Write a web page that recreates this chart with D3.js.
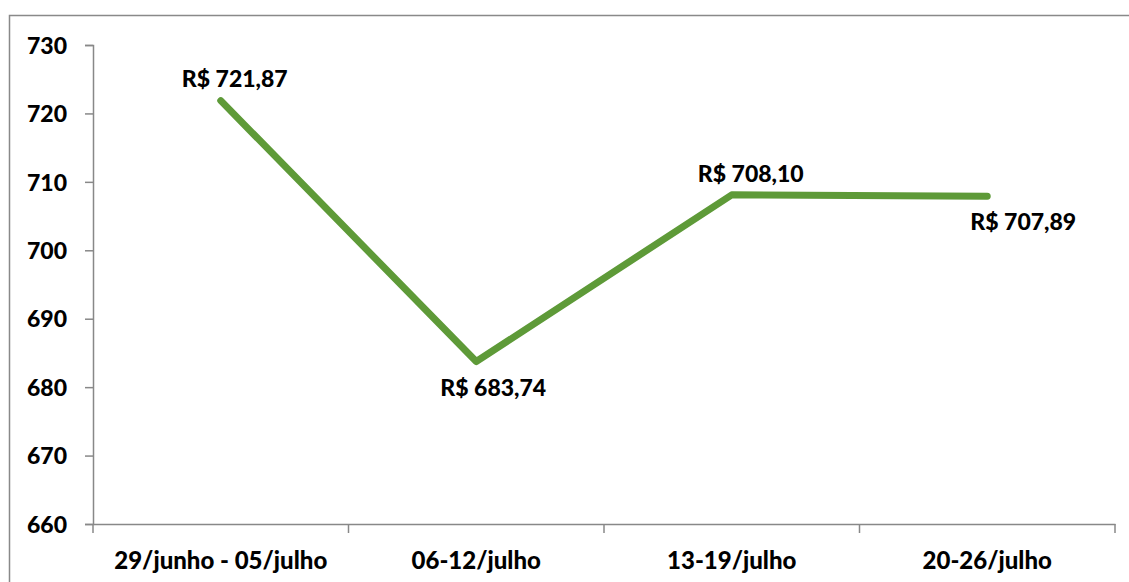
<!DOCTYPE html>
<html><head><meta charset="utf-8">
<script src="https://cdn.jsdelivr.net/npm/d3@7"></script>
<style>body{margin:0;background:#fff}svg{display:block}text{font-family:Lato,"Open Sans",sans-serif;font-weight:900;fill:#000}</style>
</head><body>
<script>
const categories = ["29/junho - 05/julho", "06-12/julho", "13-19/julho", "20-26/julho"];
const values = [721.87, 683.74, 708.10, 707.89];
const yTicks = [660, 670, 680, 690, 700, 710, 720, 730];

const W = 1129, H = 582;
const svg = d3.select("body").append("svg").attr("width", W).attr("height", H);
svg.append("rect").attr("x", 9.5).attr("y", 15.5).attr("width", 1130).attr("height", 600)
  .attr("fill", "none").attr("stroke", "#898989").attr("stroke-width", 1.5);

const L = 93, R = 1115, T = 45, B = 524;
const x = d3.scaleBand().domain(categories).range([L, R]);
const y = d3.scaleLinear().domain([660, 730]).range([B, T]);

const axColor = "#888";
// Y axis
const ya = svg.append("g").attr("transform", `translate(${L},0)`)
  .call(d3.axisLeft(y).tickValues(yTicks).tickSize(8).tickPadding(18).tickFormat(d3.format("d")));
ya.select(".domain").attr("stroke", axColor).attr("stroke-width", 1.5);
ya.selectAll(".tick line").attr("stroke", axColor).attr("stroke-width", 1.5);
ya.selectAll("text").style("font-size", "23px").attr("dy", "0.36em");

// X axis
const xa = svg.append("g").attr("transform", `translate(0,${B})`)
  .call(d3.axisBottom(x).tickSize(0));
xa.select(".domain").attr("stroke", axColor).attr("stroke-width", 1.5);
xa.selectAll("text").style("font-size", "24px").attr("y", 45).attr("dy", 0);
const bounds = categories.map(c => x(c)).concat([R]);
svg.append("g").selectAll("line").data(bounds).join("line")
  .attr("x1", d => d).attr("x2", d => d).attr("y1", B).attr("y2", B + 9)
  .attr("stroke", axColor).attr("stroke-width", 1.5);

const cx = (c) => x(c) + x.bandwidth() / 2;
const line = d3.line().x((d, i) => cx(categories[i])).y(d => y(d));
svg.append("path").datum(values).attr("d", line)
  .attr("fill", "none").attr("stroke", "#5E9A38").attr("stroke-width", 7)
  .attr("stroke-linecap", "round").attr("stroke-linejoin", "round");

const fmt = v => "R$ " + v.toFixed(2).replace(".", ",");
const place = [[14, -13.5], [17, 34.5], [19, -13], [36, 34]];
svg.append("g").selectAll("text").data(values).join("text")
  .attr("x", (d, i) => cx(categories[i]) + place[i][0])
  .attr("y", (d, i) => y(d) + place[i][1])
  .attr("text-anchor", "middle").style("font-size", "23px")
  .text(fmt);
</script>
</body></html>
